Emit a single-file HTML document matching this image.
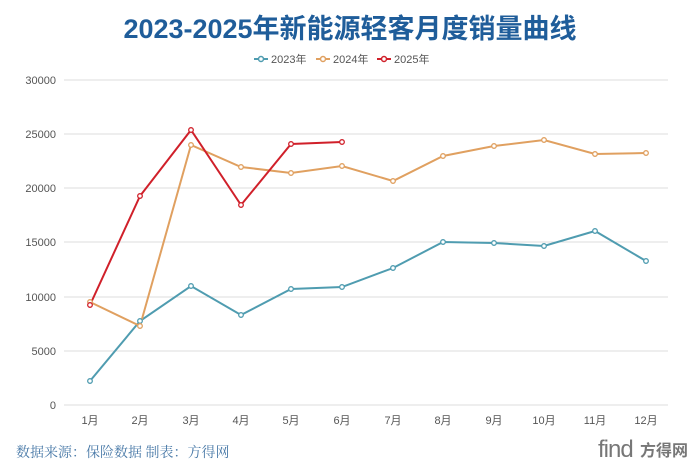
<!DOCTYPE html>
<html><head><meta charset="utf-8"><style>
body{margin:0;background:#fff;width:700px;height:465px;overflow:hidden}
text{font-family:"Liberation Sans","Noto Sans CJK SC",sans-serif}
</style></head><body>
<svg width="700" height="465" xmlns="http://www.w3.org/2000/svg">
<text x="350" y="38" text-anchor="middle" font-size="27" font-weight="bold" fill="#1f5d9a">2023-2025年新能源轻客月度销量曲线</text>
<g font-size="11" fill="#555">
<line x1="254" y1="59" x2="268" y2="59" stroke="#4f9cb0" stroke-width="2"/><circle cx="261" cy="59" r="2.5" fill="#fff" stroke="#4f9cb0" stroke-width="1.5"/><text x="271" y="63">2023年</text>
<line x1="316" y1="59" x2="330" y2="59" stroke="#e0a060" stroke-width="2"/><circle cx="323" cy="59" r="2.5" fill="#fff" stroke="#e0a060" stroke-width="1.5"/><text x="333" y="63">2024年</text>
<line x1="377" y1="59" x2="391" y2="59" stroke="#d0202a" stroke-width="2"/><circle cx="384" cy="59" r="2.5" fill="#fff" stroke="#d0202a" stroke-width="1.5"/><text x="394" y="63">2025年</text>
</g>
<g stroke="#ddd" stroke-width="1">
<line x1="64" y1="80" x2="668" y2="80"/><line x1="64" y1="134" x2="668" y2="134"/><line x1="64" y1="188" x2="668" y2="188"/><line x1="64" y1="242" x2="668" y2="242"/><line x1="64" y1="297" x2="668" y2="297"/><line x1="64" y1="351" x2="668" y2="351"/><line x1="64" y1="405" x2="668" y2="405"/>
</g>
<g font-size="11" fill="#555" text-anchor="end">
<text x="56" y="84">30000</text><text x="56" y="138">25000</text><text x="56" y="192">20000</text><text x="56" y="246">15000</text><text x="56" y="301">10000</text><text x="56" y="355">5000</text><text x="56" y="409">0</text>
</g>
<g font-size="11" fill="#555" text-anchor="middle">
<text x="90" y="424">1月</text><text x="140" y="424">2月</text><text x="191" y="424">3月</text><text x="241" y="424">4月</text><text x="291" y="424">5月</text><text x="342" y="424">6月</text><text x="393" y="424">7月</text><text x="443" y="424">8月</text><text x="494" y="424">9月</text><text x="544" y="424">10月</text><text x="595" y="424">11月</text><text x="646" y="424">12月</text>
</g>
<g fill="none" stroke-width="2">
<polyline stroke="#4f9cb0" points="90,381 140,321 191,286 241,315 291,289 342,287 393,268 443,242 494,243 544,246 595,231 646,261"/>
<polyline stroke="#e0a060" points="90,302 140,326 191,145 241,167 291,173 342,166 393,181 443,156 494,146 544,140 595,154 646,153"/>
<polyline stroke="#d0202a" points="90,305 140,196 191,130 241,205 291,144 342,142"/>
</g>
<g fill="#fff" stroke-width="1.3">
<g stroke="#4f9cb0"><circle cx="90" cy="381" r="2.3"/><circle cx="140" cy="321" r="2.3"/><circle cx="191" cy="286" r="2.3"/><circle cx="241" cy="315" r="2.3"/><circle cx="291" cy="289" r="2.3"/><circle cx="342" cy="287" r="2.3"/><circle cx="393" cy="268" r="2.3"/><circle cx="443" cy="242" r="2.3"/><circle cx="494" cy="243" r="2.3"/><circle cx="544" cy="246" r="2.3"/><circle cx="595" cy="231" r="2.3"/><circle cx="646" cy="261" r="2.3"/></g>
<g stroke="#e0a060"><circle cx="90" cy="302" r="2.3"/><circle cx="140" cy="326" r="2.3"/><circle cx="191" cy="145" r="2.3"/><circle cx="241" cy="167" r="2.3"/><circle cx="291" cy="173" r="2.3"/><circle cx="342" cy="166" r="2.3"/><circle cx="393" cy="181" r="2.3"/><circle cx="443" cy="156" r="2.3"/><circle cx="494" cy="146" r="2.3"/><circle cx="544" cy="140" r="2.3"/><circle cx="595" cy="154" r="2.3"/><circle cx="646" cy="153" r="2.3"/></g>
<g stroke="#d0202a"><circle cx="90" cy="305" r="2.3"/><circle cx="140" cy="196" r="2.3"/><circle cx="191" cy="130" r="2.3"/><circle cx="241" cy="205" r="2.3"/><circle cx="291" cy="144" r="2.3"/><circle cx="342" cy="142" r="2.3"/></g>
</g>
<text x="16" y="457" font-size="14" fill="#4a7aa8" style="font-family:'Liberation Serif','Noto Serif CJK SC',serif">数据来源：保险数据 制表：方得网</text>
<text x="598" y="457" font-size="24" fill="#777" letter-spacing="-1">find</text><text x="640" y="456" font-size="16" font-weight="bold" fill="#777" style="font-family:'Liberation Sans','Noto Sans CJK SC',sans-serif">方得网</text>
</svg>
</body></html>
